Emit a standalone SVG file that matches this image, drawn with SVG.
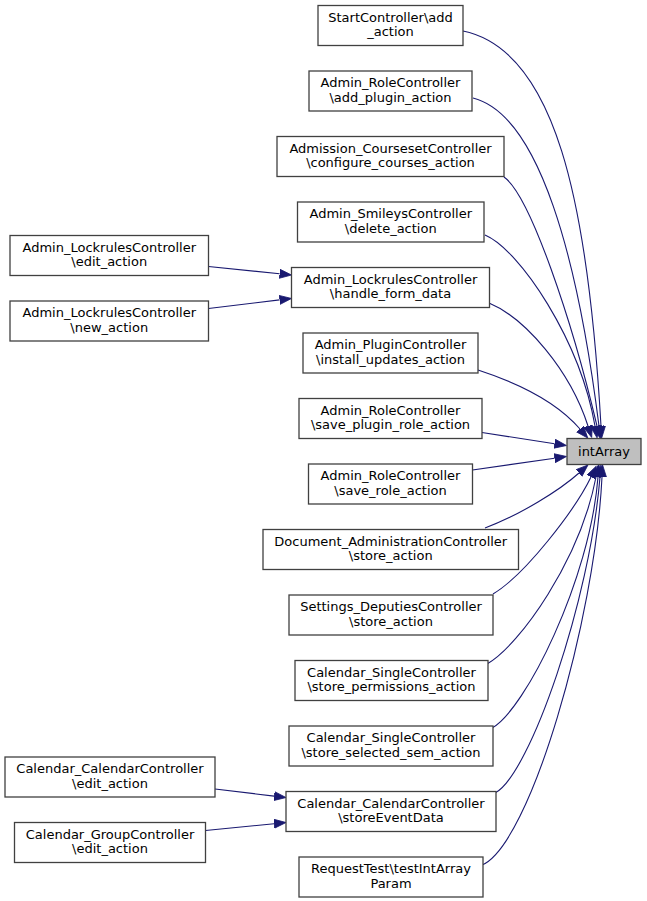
<svg xmlns="http://www.w3.org/2000/svg" width="647" height="901" viewBox="0 0 647 901">
<style>
.n rect{fill:#ffffff;stroke:#404040;stroke-width:1.3}
.n text{font-family:"DejaVu Sans",sans-serif;font-size:13px;fill:#000000;text-anchor:middle}
#intArray rect{fill:#bfbfbf}
.e path{fill:none;stroke:#191970;stroke-width:1.1;marker-end:url(#arr)}
</style>
<defs>
<marker id="arr" markerUnits="userSpaceOnUse" markerWidth="13" markerHeight="10" refX="0" refY="4.5" orient="auto" viewBox="0 0 13 9">
<path d="M0,0 L12,4.5 L0,9 z" fill="#191970" stroke="#191970" stroke-width="0.8"/>
</marker>
</defs>
<rect width="647" height="901" fill="#ffffff"/>
<g class="e" id="edges">
<path d="M463,31 C555,50 588,200 601,426"/>
<path d="M473,98 C540,115 578,260 599,426"/>
<path d="M504,177 C530,195 572,320 597,426"/>
<path d="M485,235 C520,250 580,340 595,426"/>
<path d="M489,303 C525,318 570,370 588,426"/>
<path d="M478,370 C515,382 555,400 580,429"/>
<path d="M482,432.5 L554.6,443.7"/>
<path d="M472.5,470 L554.6,458.2"/>
<path d="M485,528 C520,515 560,490 579,473"/>
<path d="M493,594 C525,575 575,510 591,477"/>
<path d="M487,664 C520,645 580,560 596,477"/>
<path d="M492,728 C525,710 590,580 598,477"/>
<path d="M495,793 C530,775 590,600 600,477"/>
<path d="M482,865 C530,845 595,620 602,477"/>
<path d="M208.5,266.5 L279.6,273.8"/>
<path d="M208.5,308.5 L279.6,299.9"/>
<path d="M215,789 L274.1,796.1"/>
<path d="M205.5,830.5 L274.1,823.7"/>
</g>
<g class="n" id="intArray"><rect x="567" y="438.5" width="74" height="26"/><text x="604" y="455.5">intArray</text></g>
<g class="n" id="n0"><rect x="318" y="5.5" width="145" height="40"/><text x="390.5" y="21.8">StartController\add</text><text x="390.5" y="36.3">_action</text></g>
<g class="n" id="n1"><rect x="309" y="71" width="163" height="40"/><text x="390.5" y="87.3">Admin_RoleController</text><text x="390.5" y="101.8">\add_plugin_action</text></g>
<g class="n" id="n2"><rect x="277" y="136.5" width="227" height="40"/><text x="390.5" y="152.8">Admission_CoursesetController</text><text x="390.5" y="167.3">\configure_courses_action</text></g>
<g class="n" id="n3"><rect x="297.5" y="202" width="186.5" height="40"/><text x="390.75" y="218.3">Admin_SmileysController</text><text x="390.75" y="232.8">\delete_action</text></g>
<g class="n" id="n4"><rect x="291.5" y="267.5" width="198" height="40"/><text x="390.5" y="283.8">Admin_LockrulesController</text><text x="390.5" y="298.3">\handle_form_data</text></g>
<g class="n" id="n5"><rect x="303" y="333" width="175" height="40"/><text x="390.5" y="349.3">Admin_PluginController</text><text x="390.5" y="363.8">\install_updates_action</text></g>
<g class="n" id="n6"><rect x="299" y="398.5" width="183" height="40"/><text x="390.5" y="414.8">Admin_RoleController</text><text x="390.5" y="429.3">\save_plugin_role_action</text></g>
<g class="n" id="n7"><rect x="308.5" y="464" width="164" height="40"/><text x="390.5" y="480.3">Admin_RoleController</text><text x="390.5" y="494.8">\save_role_action</text></g>
<g class="n" id="n8"><rect x="263" y="529.5" width="255.5" height="40"/><text x="390.75" y="545.8">Document_AdministrationController</text><text x="390.75" y="560.3">\store_action</text></g>
<g class="n" id="n9"><rect x="289" y="595" width="204" height="40"/><text x="391" y="611.3">Settings_DeputiesController</text><text x="391" y="625.8">\store_action</text></g>
<g class="n" id="n10"><rect x="295" y="660.5" width="193" height="40"/><text x="391.5" y="676.8">Calendar_SingleController</text><text x="391.5" y="691.3">\store_permissions_action</text></g>
<g class="n" id="n11"><rect x="289" y="726" width="204" height="40"/><text x="391" y="742.3">Calendar_SingleController</text><text x="391" y="756.8">\store_selected_sem_action</text></g>
<g class="n" id="n12"><rect x="286" y="791.5" width="210" height="40"/><text x="391" y="807.8">Calendar_CalendarController</text><text x="391" y="822.3">\storeEventData</text></g>
<g class="n" id="n13"><rect x="299" y="857" width="184" height="40"/><text x="391" y="873.3">RequestTest\testIntArray</text><text x="391" y="887.8">Param</text></g>
<g class="n" id="l1"><rect x="10" y="235.5" width="198.5" height="40"/><text x="109.25" y="251.8">Admin_LockrulesController</text><text x="109.25" y="266.3">\edit_action</text></g>
<g class="n" id="l2"><rect x="10" y="301" width="198.5" height="40"/><text x="109.25" y="317.3">Admin_LockrulesController</text><text x="109.25" y="331.8">\new_action</text></g>
<g class="n" id="l3"><rect x="5" y="757" width="210" height="40"/><text x="110" y="773.3">Calendar_CalendarController</text><text x="110" y="787.8">\edit_action</text></g>
<g class="n" id="l4"><rect x="14.5" y="822.5" width="191" height="40"/><text x="110" y="838.8">Calendar_GroupController</text><text x="110" y="853.3">\edit_action</text></g>
</svg>
